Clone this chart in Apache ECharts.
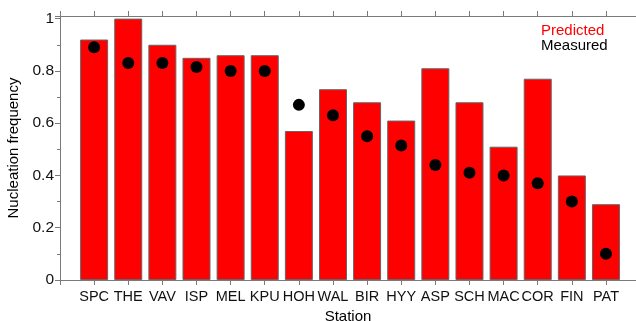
<!DOCTYPE html>
<html>
<head>
<meta charset="utf-8">
<script src="https://cdn.jsdelivr.net/npm/echarts@6/dist/echarts.min.js"></script>
<style>html,body{margin:0;padding:0;background:#fff}#c{width:636px;height:321px}</style>
</head>
<body>
<div id="c"></div>
<script>
const stations = ['SPC','THE','VAV','ISP','MEL','KPU','HOH','WAL','BIR','HYY','ASP','SCH','MAC','COR','FIN','PAT'];
const predicted = [0.92,1.0,0.90,0.85,0.86,0.86,0.57,0.73,0.68,0.61,0.81,0.68,0.51,0.77,0.40,0.29];
const measured = [0.89,0.83,0.83,0.815,0.80,0.80,0.67,0.63,0.55,0.515,0.44,0.41,0.40,0.37,0.30,0.10];
const yTicks = [0,0.2,0.4,0.6,0.8,1];

const FONT = '"Liberation Sans", Arial, sans-serif';
const axisGray = '#7a7a7a';
const chart = echarts.init(document.getElementById('c'), null, {renderer:'canvas'});
const xMax = 16.88;
chart.setOption({
  animation:false,
  textStyle:{fontFamily:FONT},
  grid:{left:60, right:0, top:16, bottom:41, containLabel:false, outerBoundsMode:'none'},
  legend:{
    orient:'vertical', left:531, top:18, itemGap:0, itemWidth:0, itemHeight:0,
    textStyle:{fontFamily:FONT, fontSize:15},
    data:[{name:'Predicted', icon:'none', textStyle:{color:'#ff0000'}},
          {name:'Measured', icon:'none', textStyle:{color:'#000'}}]
  },
  xAxis:[{
    type:'value', min:0, max:xMax, interval:1, position:'bottom',
    name:'Station', nameLocation:'middle', nameGap:26,
    nameTextStyle:{color:'#000', fontSize:15, fontFamily:FONT},
    axisLine:{lineStyle:{color:axisGray}},
    axisTick:{show:true, length:5, lineStyle:{color:axisGray}},
    splitLine:{show:false},
    axisLabel:{color:'#111', fontSize:14.5, margin:9, fontFamily:FONT,
      formatter:v=>{const i=Math.round(v); return (Math.abs(v-i)<1e-6 && i>=1 && i<=stations.length)?stations[i-1]:'';}}
  },{
    type:'value', min:0, max:xMax, interval:1, position:'top',
    axisLine:{show:true, lineStyle:{color:axisGray}},
    axisTick:{show:true, length:5, lineStyle:{color:axisGray}},
    axisLabel:{show:false}, splitLine:{show:false}
  }],
  yAxis:{
    type:'value', min:0, max:1.01, interval:0.2,
    name:'Nucleation frequency', nameLocation:'middle', nameGap:33,
    nameTextStyle:{color:'#000', fontSize:15, fontFamily:FONT},
    axisLine:{show:true, lineStyle:{color:axisGray}},
    axisTick:{show:true, length:5, lineStyle:{color:axisGray}},
    minorTick:{show:true, splitNumber:2, length:3, lineStyle:{color:axisGray}},
    splitLine:{show:false},
    axisLabel:{color:'#111', fontSize:15.5, margin:6, fontFamily:FONT, showMaxLabel:false,
      formatter:v=>{const ok=yTicks.some(t=>Math.abs(t-v)<1e-6); return ok?String(+v.toFixed(1)):'';}}
  },
  series:[{
    name:'Predicted', type:'bar', xAxisIndex:0, barWidth:28,
    itemStyle:{color:'#ff0000', borderColor:'#666', borderWidth:1},
    data:stations.map((s,i)=>[i+1, predicted[i]])
  },{
    name:'Measured', type:'scatter', xAxisIndex:0, symbol:'circle', symbolSize:12,
    itemStyle:{color:'#000', opacity:1}, z:5,
    data:stations.map((s,i)=>[i+1, measured[i]])
  }]
});
</script>
</body>
</html>
